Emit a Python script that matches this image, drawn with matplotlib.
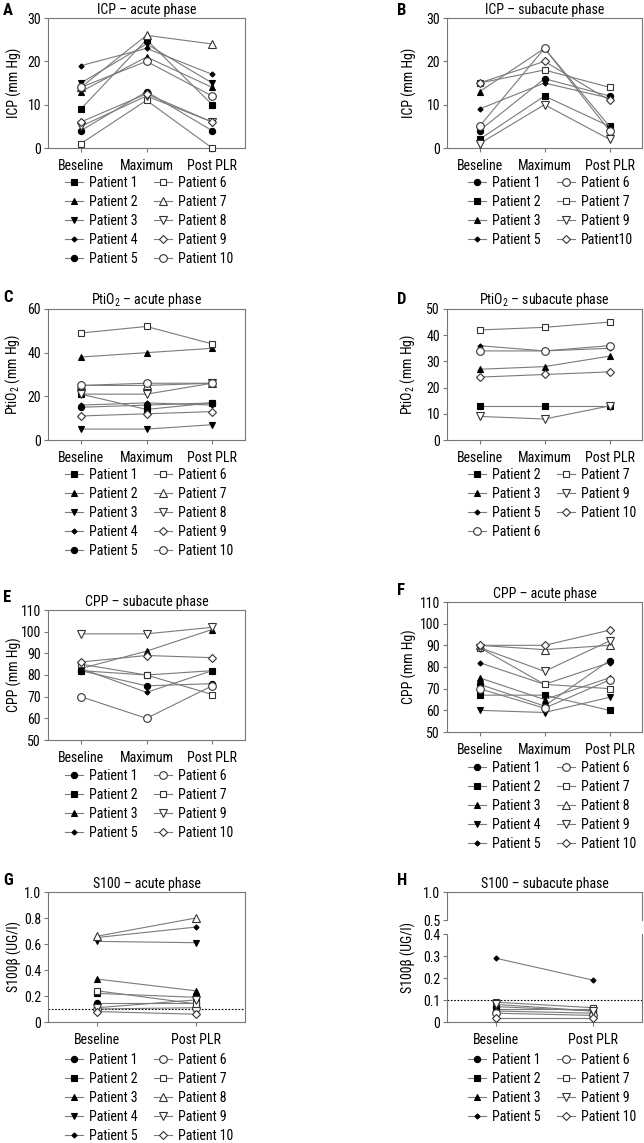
"""
Recreation of the ICP / PtiO2 / CPP / S100 patient panels (A-H).
"""

import matplotlib
matplotlib.use("Agg")
import matplotlib.pyplot as plt
from matplotlib import font_manager as fm
from matplotlib.ticker import FuncFormatter


# ── Data ───────────────────────────────────────────────────────
PHASES3 = ["Beseline", "Maximum", "Post PLR"]
PHASES2 = ["Beseline", "Post PLR"]

# A: ICP acute
A_PATIENTS = [1, 2, 3, 4, 5, 6, 7, 8, 9, 10]
A_VALUES = [
    [9, 25, 10], [13, 21, 14], [15, 24, 15], [19, 23, 17], [4, 13, 4],
    [1, 11, 0], [14, 26, 24], [5, 12, 6], [6, 12.5, 6], [14, 20, 12],
]

# B: ICP subacute
B_PATIENTS = [1, 2, 3, 5, 6, 7, 9, 10]
B_VALUES = [
    [4, 16, 12], [2, 12, 5], [13, 23, 5], [9, 15, 11.5],
    [5, 23, 4], [15, 18, 14], [1, 10, 2], [15, 20, 11],
]

# C: PtiO2 acute
C_PATIENTS = [1, 2, 3, 4, 5, 6, 7, 8, 9, 10]
C_VALUES = [
    [21, 14, 17], [38, 40, 42], [5, 5, 7], [16, 17, 16], [15, 16, 17],
    [49, 52, 44], [25, 25, 26], [21, 21, 26], [11, 12, 13], [25, 26, 26],
]

# D: PtiO2 subacute
D_PATIENTS = [2, 3, 5, 6, 7, 9, 10]
D_VALUES = [
    [13, 13, 13], [27, 28, 32], [36, 34, 35], [34, 34, 36],
    [42, 43, 45], [9, 8, 13], [24, 25, 26],
]

# E: CPP subacute
E_PATIENTS = [1, 2, 3, 5, 6, 7, 9, 10]
E_VALUES = [
    [82, 75, 76], [82, 80, 82], [83, 91, 101], [83, 72, 82],
    [70, 60, 75], [85, 80, 71], [99, 99, 102], [86, 89, 88],
]

# F: CPP acute
F_PATIENTS = [1, 2, 3, 4, 5, 6, 7, 8, 9, 10]
F_VALUES = [
    [72, 62, 83], [67, 67, 60], [75, 65, 75], [60, 59, 66], [82, 72, 82],
    [70, 61, 74], [89, 72, 70], [90, 88, 90], [89, 78, 92], [90, 90, 97],
]

# G: S100 acute
G_PATIENTS = [1, 2, 3, 4, 5, 6, 7, 8, 9, 10]
G_VALUES = [
    [0.15, 0.15], [0.22, 0.19], [0.33, 0.24], [0.62, 0.61], [0.65, 0.73],
    [0.10, 0.11], [0.24, 0.14], [0.66, 0.80], [0.11, 0.17], [0.08, 0.06],
]

# H: S100 subacute
H_PATIENTS = [1, 2, 3, 5, 6, 7, 9, 10]
H_VALUES = [
    [0.07, 0.05], [0.06, 0.06], [0.05, 0.04], [0.29, 0.19],
    [0.04, 0.03], [0.09, 0.065], [0.08, 0.05], [0.02, 0.02],
]

S100_CUTOFF = 0.1


# ── Font: prefer a narrow face, like the condensed original ────
def pick_font():
    fonts = fm.fontManager.ttflist
    names = {f.name for f in fonts}
    for name in ["Liberation Sans Narrow", "Roboto Condensed", "Open Sans Condensed",
                 "Arial Narrow"]:
        if name in names:
            return name, "normal", 9.5
    for f in fonts:
        if f.name == "DejaVu Sans" and "ondensed" in f.fname:
            return "DejaVu Sans", "condensed", 8.5
    return "Roboto", "normal", 8.5


FAMILY, STRETCH, FS = pick_font()

W, H = 644, 1143
LINE = "#7a7a7a"
SPINE = "#777777"

plt.rcParams["font.family"] = [FAMILY, "DejaVu Sans"]
plt.rcParams["font.stretch"] = STRETCH
plt.rcParams["mathtext.fontset"] = "custom"
plt.rcParams["mathtext.rm"] = FAMILY
plt.rcParams["mathtext.default"] = "regular"

# marker, filled, size  (panels A and C use a different order)
STYLE_AC = {
    1: ("s", True, 4.5), 2: ("^", True, 4.5), 3: ("v", True, 4.5),
    4: ("D", True, 2.6), 5: ("o", True, 4.5),
    6: ("s", False, 5), 7: ("^", False, 5.5), 8: ("v", False, 5.5),
    9: ("D", False, 4), 10: ("o", False, 5.5),
}
STYLE = {
    1: ("o", True, 4.5), 2: ("s", True, 4.5), 3: ("^", True, 4.5),
    4: ("v", True, 4.5), 5: ("D", True, 2.6),
    6: ("o", False, 5.5), 7: ("s", False, 5), 8: ("^", False, 5.5),
    9: ("v", False, 5.5), 10: ("D", False, 4),
}


def px_rect(left, top, right, bottom):
    return [left / W, 1 - bottom / H, (right - left) / W, (bottom - top) / H]


def draw_patients(ax, patients, values, styles, labels=None):
    handles = []
    for i, (p, vals) in enumerate(zip(patients, values)):
        marker, filled, ms = styles[p]
        label = labels[i] if labels else f"Patient {p}"
        ln, = ax.plot(range(len(vals)), vals, color=LINE, lw=0.8, marker=marker, ms=ms,
                      mfc="black" if filled else "white",
                      mec="black" if filled else "#333333", mew=0.8, label=label,
                      clip_on=False, zorder=3)
        handles.append(ln)
    return handles


def style_axes(ax, ylim, yticks, xlabels, fmt=None, label_x=-0.13):
    ax.set_ylim(*ylim)
    ax.set_yticks(yticks)
    if fmt:
        ax.yaxis.set_major_formatter(FuncFormatter(fmt))
    ax.set_xlim(-0.5, len(xlabels) - 0.5)
    ax.set_xticks(range(len(xlabels)))
    ax.set_xticklabels(xlabels)
    for s in ax.spines.values():
        s.set_color(SPINE)
        s.set_linewidth(0.8)
    ax.tick_params(length=3, width=0.8, color=SPINE, labelsize=FS + 0.5, pad=2)
    ax.tick_params(axis="x", pad=5)
    ax.yaxis.set_label_coords(label_x, 0.5)


def add_legend(fig, ax, handles, x, y):
    ax.legend(handles=handles, loc="upper left", bbox_to_anchor=(x / W, 1 - y / H),
              bbox_transform=fig.transFigure, ncol=2, frameon=False, fontsize=FS + 0.5,
              handlelength=1.3, handletextpad=0.4, columnspacing=1.2,
              labelspacing=0.36, borderpad=0, borderaxespad=0)


def letter(fig, x, y, s):
    fig.text(x / W, 1 - y / H, s, fontsize=12, fontweight="bold", va="top", ha="left")


def s100_fmt(v, _):
    return "0" if v == 0 else f"{v:.1f}"


# ── Figure ─────────────────────────────────────────────────────
fig = plt.figure(figsize=(W / 100, H / 100), dpi=100)

LX, RX = (48, 245), (447, 642)
LAB_L, LAB_R = -0.13, -0.155

# A
ax = fig.add_axes(px_rect(LX[0], 18, LX[1], 148))
hs = draw_patients(ax, A_PATIENTS, A_VALUES, STYLE_AC)
style_axes(ax, (0, 30), [0, 10, 20, 30], PHASES3, label_x=LAB_L)
ax.set_title("ICP – acute phase", fontsize=FS + 0.5, pad=3)
ax.set_ylabel("ICP (mm Hg)", fontsize=FS + 0.5)
add_legend(fig, ax, hs, 65, 176)
letter(fig, 3, 3, "A")

# B
ax = fig.add_axes(px_rect(RX[0], 18, RX[1], 148))
b_labels = [f"Patient {p}" for p in B_PATIENTS]
b_labels[-1] = "Patient10"
hs = draw_patients(ax, B_PATIENTS, B_VALUES, STYLE, b_labels)
style_axes(ax, (0, 30), [0, 10, 20, 30], PHASES3, label_x=LAB_R)
ax.set_title("ICP – subacute phase", fontsize=FS + 0.5, pad=3)
ax.set_ylabel("ICP (mm Hg)", fontsize=FS + 0.5)
add_legend(fig, ax, hs, 468, 176)
letter(fig, 397, 3, "B")

# C
ax = fig.add_axes(px_rect(LX[0], 309, LX[1], 440))
hs = draw_patients(ax, C_PATIENTS, C_VALUES, STYLE_AC)
style_axes(ax, (0, 60), [0, 20, 40, 60], PHASES3, label_x=LAB_L)
ax.set_title("PtiO$_2$ – acute phase", fontsize=FS + 0.5, pad=3)
ax.set_ylabel("PtiO$_2$ (mm Hg)", fontsize=FS + 0.5)
add_legend(fig, ax, hs, 65, 468)
letter(fig, 3, 290, "C")

# D
ax = fig.add_axes(px_rect(RX[0], 309, RX[1], 440))
hs = draw_patients(ax, D_PATIENTS, D_VALUES, STYLE)
style_axes(ax, (0, 50), [0, 10, 20, 30, 40, 50], PHASES3, label_x=LAB_R)
ax.set_title("PtiO$_2$ – subacute phase", fontsize=FS + 0.5, pad=3)
ax.set_ylabel("PtiO$_2$ (mm Hg)", fontsize=FS + 0.5)
add_legend(fig, ax, hs, 468, 468)
letter(fig, 397, 292, "D")

# E
ax = fig.add_axes(px_rect(LX[0], 610, LX[1], 740))
hs = draw_patients(ax, E_PATIENTS, E_VALUES, STYLE)
style_axes(ax, (50, 110), range(50, 111, 10), PHASES3, label_x=LAB_L)
ax.set_title("CPP – subacute phase", fontsize=FS + 0.5, pad=3)
ax.set_ylabel("CPP (mm Hg)", fontsize=FS + 0.5)
add_legend(fig, ax, hs, 65, 769)
letter(fig, 3, 590, "E")

# F
ax = fig.add_axes(px_rect(RX[0], 602, RX[1], 732))
hs = draw_patients(ax, F_PATIENTS, F_VALUES, STYLE)
style_axes(ax, (50, 110), range(50, 111, 10), PHASES3, label_x=LAB_R)
ax.set_title("CPP – acute phase", fontsize=FS + 0.5, pad=3)
ax.set_ylabel("CPP (mm Hg)", fontsize=FS + 0.5)
add_legend(fig, ax, hs, 468, 761)
letter(fig, 397, 583, "F")

# G
ax = fig.add_axes(px_rect(LX[0], 892, LX[1], 1022))
hs = draw_patients(ax, G_PATIENTS, G_VALUES, STYLE)
style_axes(ax, (0, 1.0), [0, 0.2, 0.4, 0.6, 0.8, 1.0], PHASES2, s100_fmt, LAB_L)
ax.axhline(S100_CUTOFF, color="black", lw=0.8, ls=(0, (1.5, 1.5)), zorder=2)
ax.set_title("S100 – acute phase", fontsize=FS + 0.5, pad=3)
ax.set_ylabel("S100β (UG/l)", fontsize=FS + 0.5)
add_legend(fig, ax, hs, 65, 1053)
letter(fig, 3, 873, "G")

# H (broken y axis)
ax_top = fig.add_axes(px_rect(RX[0], 892, RX[1], 920))
ax_low = fig.add_axes(px_rect(RX[0], 934, RX[1], 1022))
hs = draw_patients(ax_low, H_PATIENTS, H_VALUES, STYLE)
style_axes(ax_low, (0, 0.4), [0, 0.1, 0.2, 0.3, 0.4], PHASES2, s100_fmt)
style_axes(ax_top, (0.5, 1.0), [0.5, 1.0], PHASES2, s100_fmt)
ax_top.spines["bottom"].set_visible(False)
ax_top.tick_params(axis="x", bottom=False, labelbottom=False)
ax_low.spines["top"].set_visible(False)
ax_low.axhline(S100_CUTOFF, color="black", lw=0.8, ls=(0, (1.5, 1.5)), zorder=2)
ax_top.set_title("S100 – subacute phase", fontsize=FS + 0.5, pad=3)
ax_low.set_ylabel("S100β (UG/l)", fontsize=FS + 0.5)
ax_low.yaxis.set_label_coords(-0.16, 0.73)
add_legend(fig, ax_low, hs, 468, 1053)
letter(fig, 397, 873, "H")

fig.savefig("out.png", dpi=100)
